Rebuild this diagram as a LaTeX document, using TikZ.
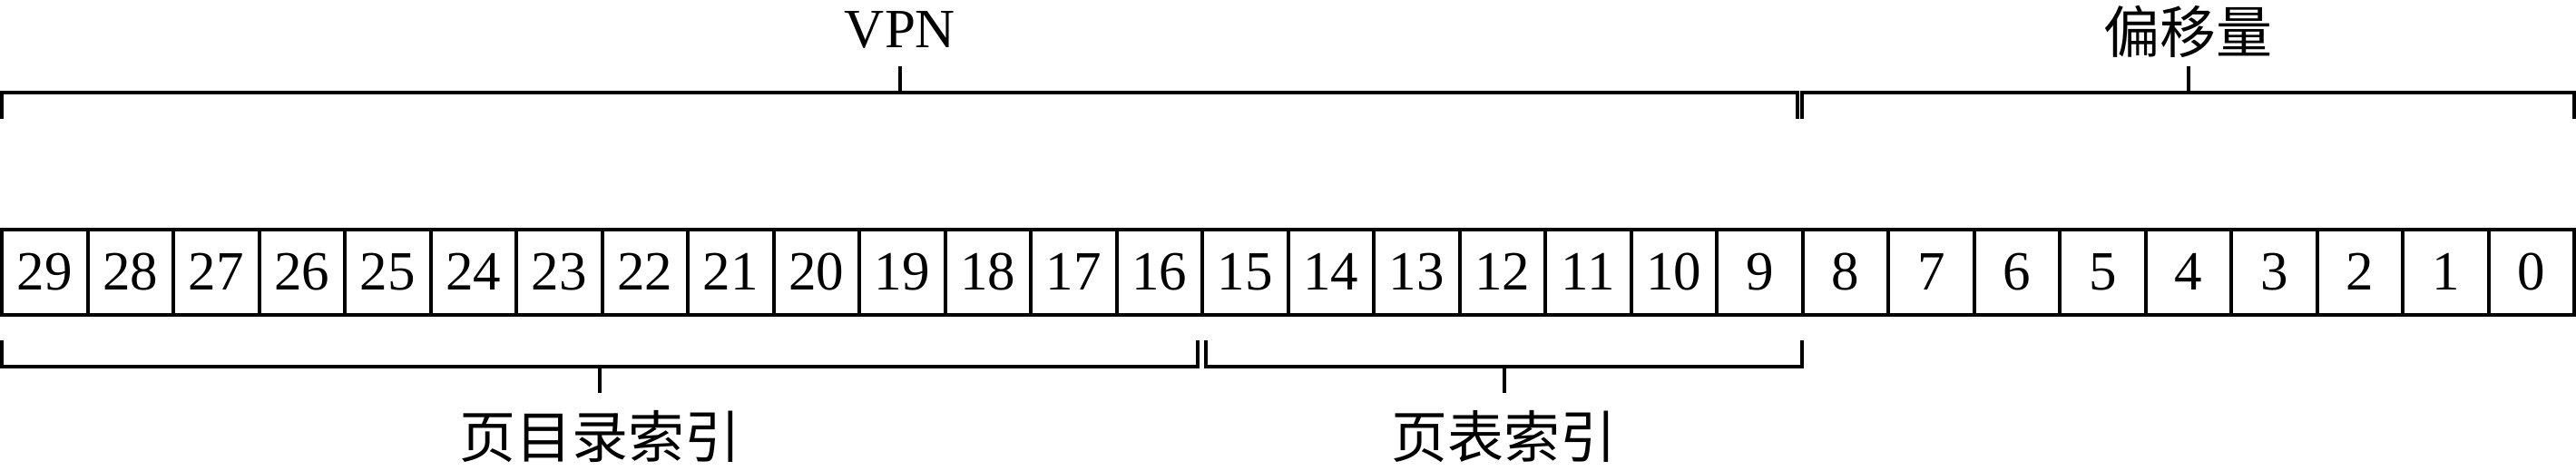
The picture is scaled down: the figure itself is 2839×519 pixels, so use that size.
\documentclass[tikz,border=0pt]{standalone}
\usepackage{fontspec}
\setmainfont{Liberation Serif}
\newfontfamily\cjk{Noto Sans CJK SC}
\begin{document}
\begin{tikzpicture}[x=0.5pt,y=-0.5pt, line width=2pt,
  cell/.style={draw, minimum width=47.25pt, minimum height=46.75pt, inner sep=0pt, anchor=center, font=\fontsize{30.5}{30.5}\selectfont},
  lbl/.style={inner sep=0pt, font=\fontsize{30.5}{30.5}\selectfont},
  cjklbl/.style={inner sep=0pt, font=\fontsize{31}{31}\selectfont\cjk},
  brace/.style={line width=2pt, line join=miter}]
\useasboundingbox (0,0) rectangle (2839,519);
% cells
\foreach \i in {0,...,29}{
  \pgfmathtruncatemacro{\b}{29-\i}
  \node[cell] (c\b) at ({2+94.5*(\i+0.5)},299.75) {\b};
}
% top brackets
\draw[brace] (2,131) -- (2,102) -- (1981,102) -- (1981,131);
\draw[brace] (991.5,102) -- (991.5,73);
\draw[brace] (1986,131) -- (1986,102) -- (2837,102) -- (2837,131);
\draw[brace] (2411.5,102) -- (2411.5,73);
% bottom brackets
\draw[brace] (2,375) -- (2,404) -- (1320,404) -- (1320,375);
\draw[brace] (661,404) -- (661,433);
\draw[brace] (1329,375) -- (1329,404) -- (1986,404) -- (1986,375);
\draw[brace] (1657.5,404) -- (1657.5,433);
% labels
\node[lbl, anchor=base] (vpn) at (992,53) {VPN};
\node[cjklbl] (off) at (2411.5,35) {偏移量};
\node[cjklbl] (pdi) at (661,481) {页目录索引};
\node[cjklbl] (pti) at (1657.5,481) {页表索引};
\end{tikzpicture}
\end{document}
